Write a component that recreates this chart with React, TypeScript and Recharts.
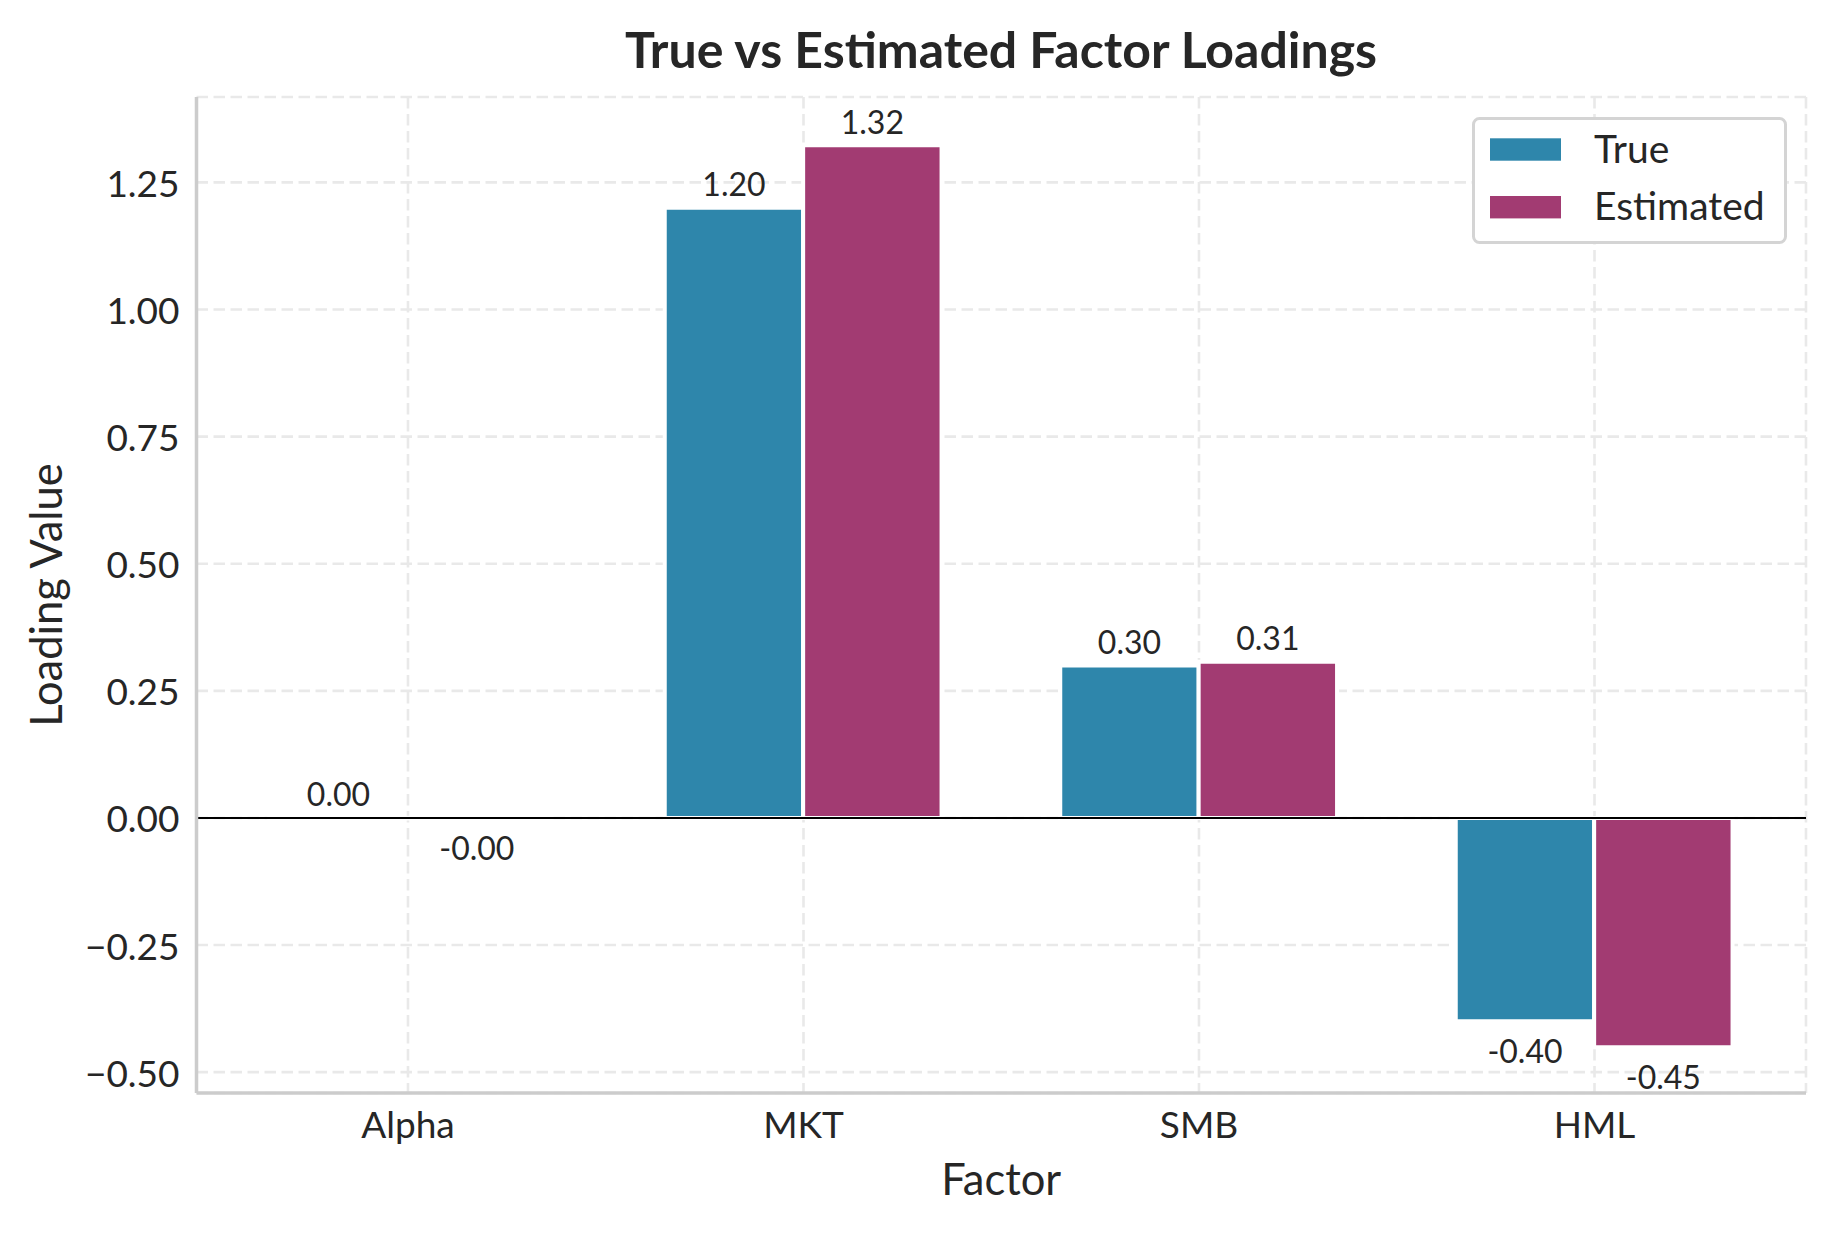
import React from 'react';
import {
  BarChart,
  Bar,
  XAxis,
  YAxis,
  CartesianGrid,
  ReferenceLine,
  Legend,
  LabelList,
} from 'recharts';

// ---------- data ----------
const FACTORS = ['Alpha', 'MKT', 'SMB', 'HML'];
const TRUE_LOADINGS = [0.0004, 1.2, 0.3, -0.4];
const ESTIMATED_LOADINGS = [-0.001, 1.323, 0.307, -0.451];
const Y_TICKS = [-0.5, -0.25, 0, 0.25, 0.5, 0.75, 1.0, 1.25];
const Y_DOMAIN = [-0.541, 1.418];
const SERIES = [
  { key: 'trueValue', name: 'True', color: '#2E86AB' },
  { key: 'estimatedValue', name: 'Estimated', color: '#A23B72' },
];
const TITLE = 'True vs Estimated Factor Loadings';
const X_LABEL = 'Factor';
const Y_LABEL = 'Loading Value';

const data = FACTORS.map((factor, i) => ({
  factor,
  trueValue: TRUE_LOADINGS[i],
  estimatedValue: ESTIMATED_LOADINGS[i],
}));

// ---------- style ----------
const FONT = "Lato, 'Source Sans Pro', 'Noto Sans', sans-serif";
const TEXT = '#262626';
const SPINE = '#cccccc';
const GRID = '#e9e9e9';

const W = 1834;
const H = 1234;
const YAXIS_W = 150;
const XAXIS_H = 110;
const MARGIN = { top: 97, right: 28, left: 46.5, bottom: 1234 - 1093 - XAXIS_H };

const fmtTick = (v: number) => {
  const s = Math.abs(v).toFixed(2);
  return v < 0 ? '\u2212' + s : s;
};

const YTick = (props: any) => {
  const { x, y, payload } = props;
  return (
    <text x={x} y={y + 14.5} textAnchor="end" fontSize={37} fill={TEXT} fontFamily={FONT}>
      {fmtTick(Number(payload.value))}
    </text>
  );
};

const XTick = (props: any) => {
  const { x, y, payload } = props;
  return (
    <text x={x} y={y + 45} textAnchor="middle" fontSize={37} fill={TEXT} fontFamily={FONT}>
      {payload.value}
    </text>
  );
};

const renderValueLabel = (props: any) => {
  const vb = props.viewBox && props.viewBox.width !== undefined ? props.viewBox : props;
  const x = Number(vb.x);
  const y = Number(vb.y);
  const width = Number(vb.width);
  const height = Number(vb.height) || 0;
  const v = Number(props.value);
  const top = Math.min(y, y + height);
  const bottom = Math.max(y, y + height);
  const cx = x + width / 2;
  const ty = v >= 0 ? top - 11.5 : bottom + 42;
  return (
    <text x={cx} y={ty} textAnchor="middle" fontSize={32} fill={TEXT} fontFamily={FONT}>
      {v.toFixed(2)}
    </text>
  );
};

const renderYLabel = (props: any) => {
  const vb = props.viewBox || { x: MARGIN.left, y: MARGIN.top, width: YAXIS_W, height: 996 };
  const x = vb.x + 15.5;
  const cy = vb.y + vb.height / 2;
  return (
    <text
      x={x}
      y={cy}
      transform={`rotate(-90 ${x} ${cy})`}
      textAnchor="middle"
      fontSize={43.5}
      fill={TEXT}
      fontFamily={FONT}
    >
      {Y_LABEL}
    </text>
  );
};

const renderXLabel = (props: any) => {
  const vb = props.viewBox || { x: 196.5, y: 1093, width: 1609.5, height: XAXIS_H };
  return (
    <text
      x={vb.x + vb.width / 2}
      y={vb.y + 102}
      textAnchor="middle"
      fontSize={43.5}
      fill={TEXT}
      fontFamily={FONT}
    >
      {X_LABEL}
    </text>
  );
};

const renderLegend = () => (
  <svg width={315} height={127} style={{ display: 'block', overflow: 'visible' }}>
    <rect x={1.5} y={1.5} width={312} height={124} rx={6} ry={6} fill="#ffffff" stroke="#d4d4d4" strokeWidth={3} />
    {SERIES.map((s, i) => (
      <g key={s.key}>
        <rect x={18} y={i === 0 ? 21.3 : 79} width={71} height={22.4} fill={s.color} />
        <text x={122} y={i === 0 ? 46.3 : 103} fontSize={39} fill={TEXT} fontFamily={FONT}>
          {s.name}
        </text>
      </g>
    ))}
  </svg>
);

export default function App() {
  return (
    <div style={{ position: 'absolute', left: 0, top: 0, width: W, height: H, background: '#ffffff' }}>
      <BarChart width={W} height={H} data={data} margin={MARGIN} barGap={0}>
        <CartesianGrid stroke={GRID} strokeWidth={2.6} strokeDasharray="11.5 5.5" />
        <XAxis
          dataKey="factor"
          type="category"
          height={XAXIS_H}
          padding={{ left: 13.75, right: 13.75 }}
          axisLine={{ stroke: SPINE, strokeWidth: 3.5 }}
          tickLine={false}
          tickSize={0}
          tickMargin={0}
          tick={<XTick />}
          interval={0}
          label={{ value: X_LABEL, content: renderXLabel }}
        />
        <YAxis
          type="number"
          width={YAXIS_W}
          domain={Y_DOMAIN}
          ticks={Y_TICKS}
          allowDataOverflow
          axisLine={{ stroke: SPINE, strokeWidth: 3.5 }}
          tickLine={false}
          tickSize={0}
          tickMargin={17}
          tick={<YTick />}
          interval={0}
          label={{ value: Y_LABEL, content: renderYLabel }}
        />
        {SERIES.map((s) => (
          <Bar
            key={s.key}
            dataKey={s.key}
            name={s.name}
            fill={s.color}
            stroke="#ffffff"
            strokeWidth={4}
            barSize={138.4}
            isAnimationActive={false}
          >
            <LabelList dataKey={s.key} content={renderValueLabel} />
          </Bar>
        ))}
        <ReferenceLine y={0} stroke="#000000" strokeWidth={2} />
        <Legend
          layout="horizontal"
          verticalAlign="middle"
          align="center"
          content={renderLegend}
          wrapperStyle={{ left: 1472, top: 117, width: 315, height: 127 }}
        />
      </BarChart>
      <svg
        width={W}
        height={110}
        style={{ position: 'absolute', left: 0, top: 0, pointerEvents: 'none' }}
      >
        <text x={1001} y={67.7} textAnchor="middle" fontSize={50} fontWeight={700} fill={TEXT} fontFamily={FONT}>
          {TITLE}
        </text>
      </svg>
    </div>
  );
}
